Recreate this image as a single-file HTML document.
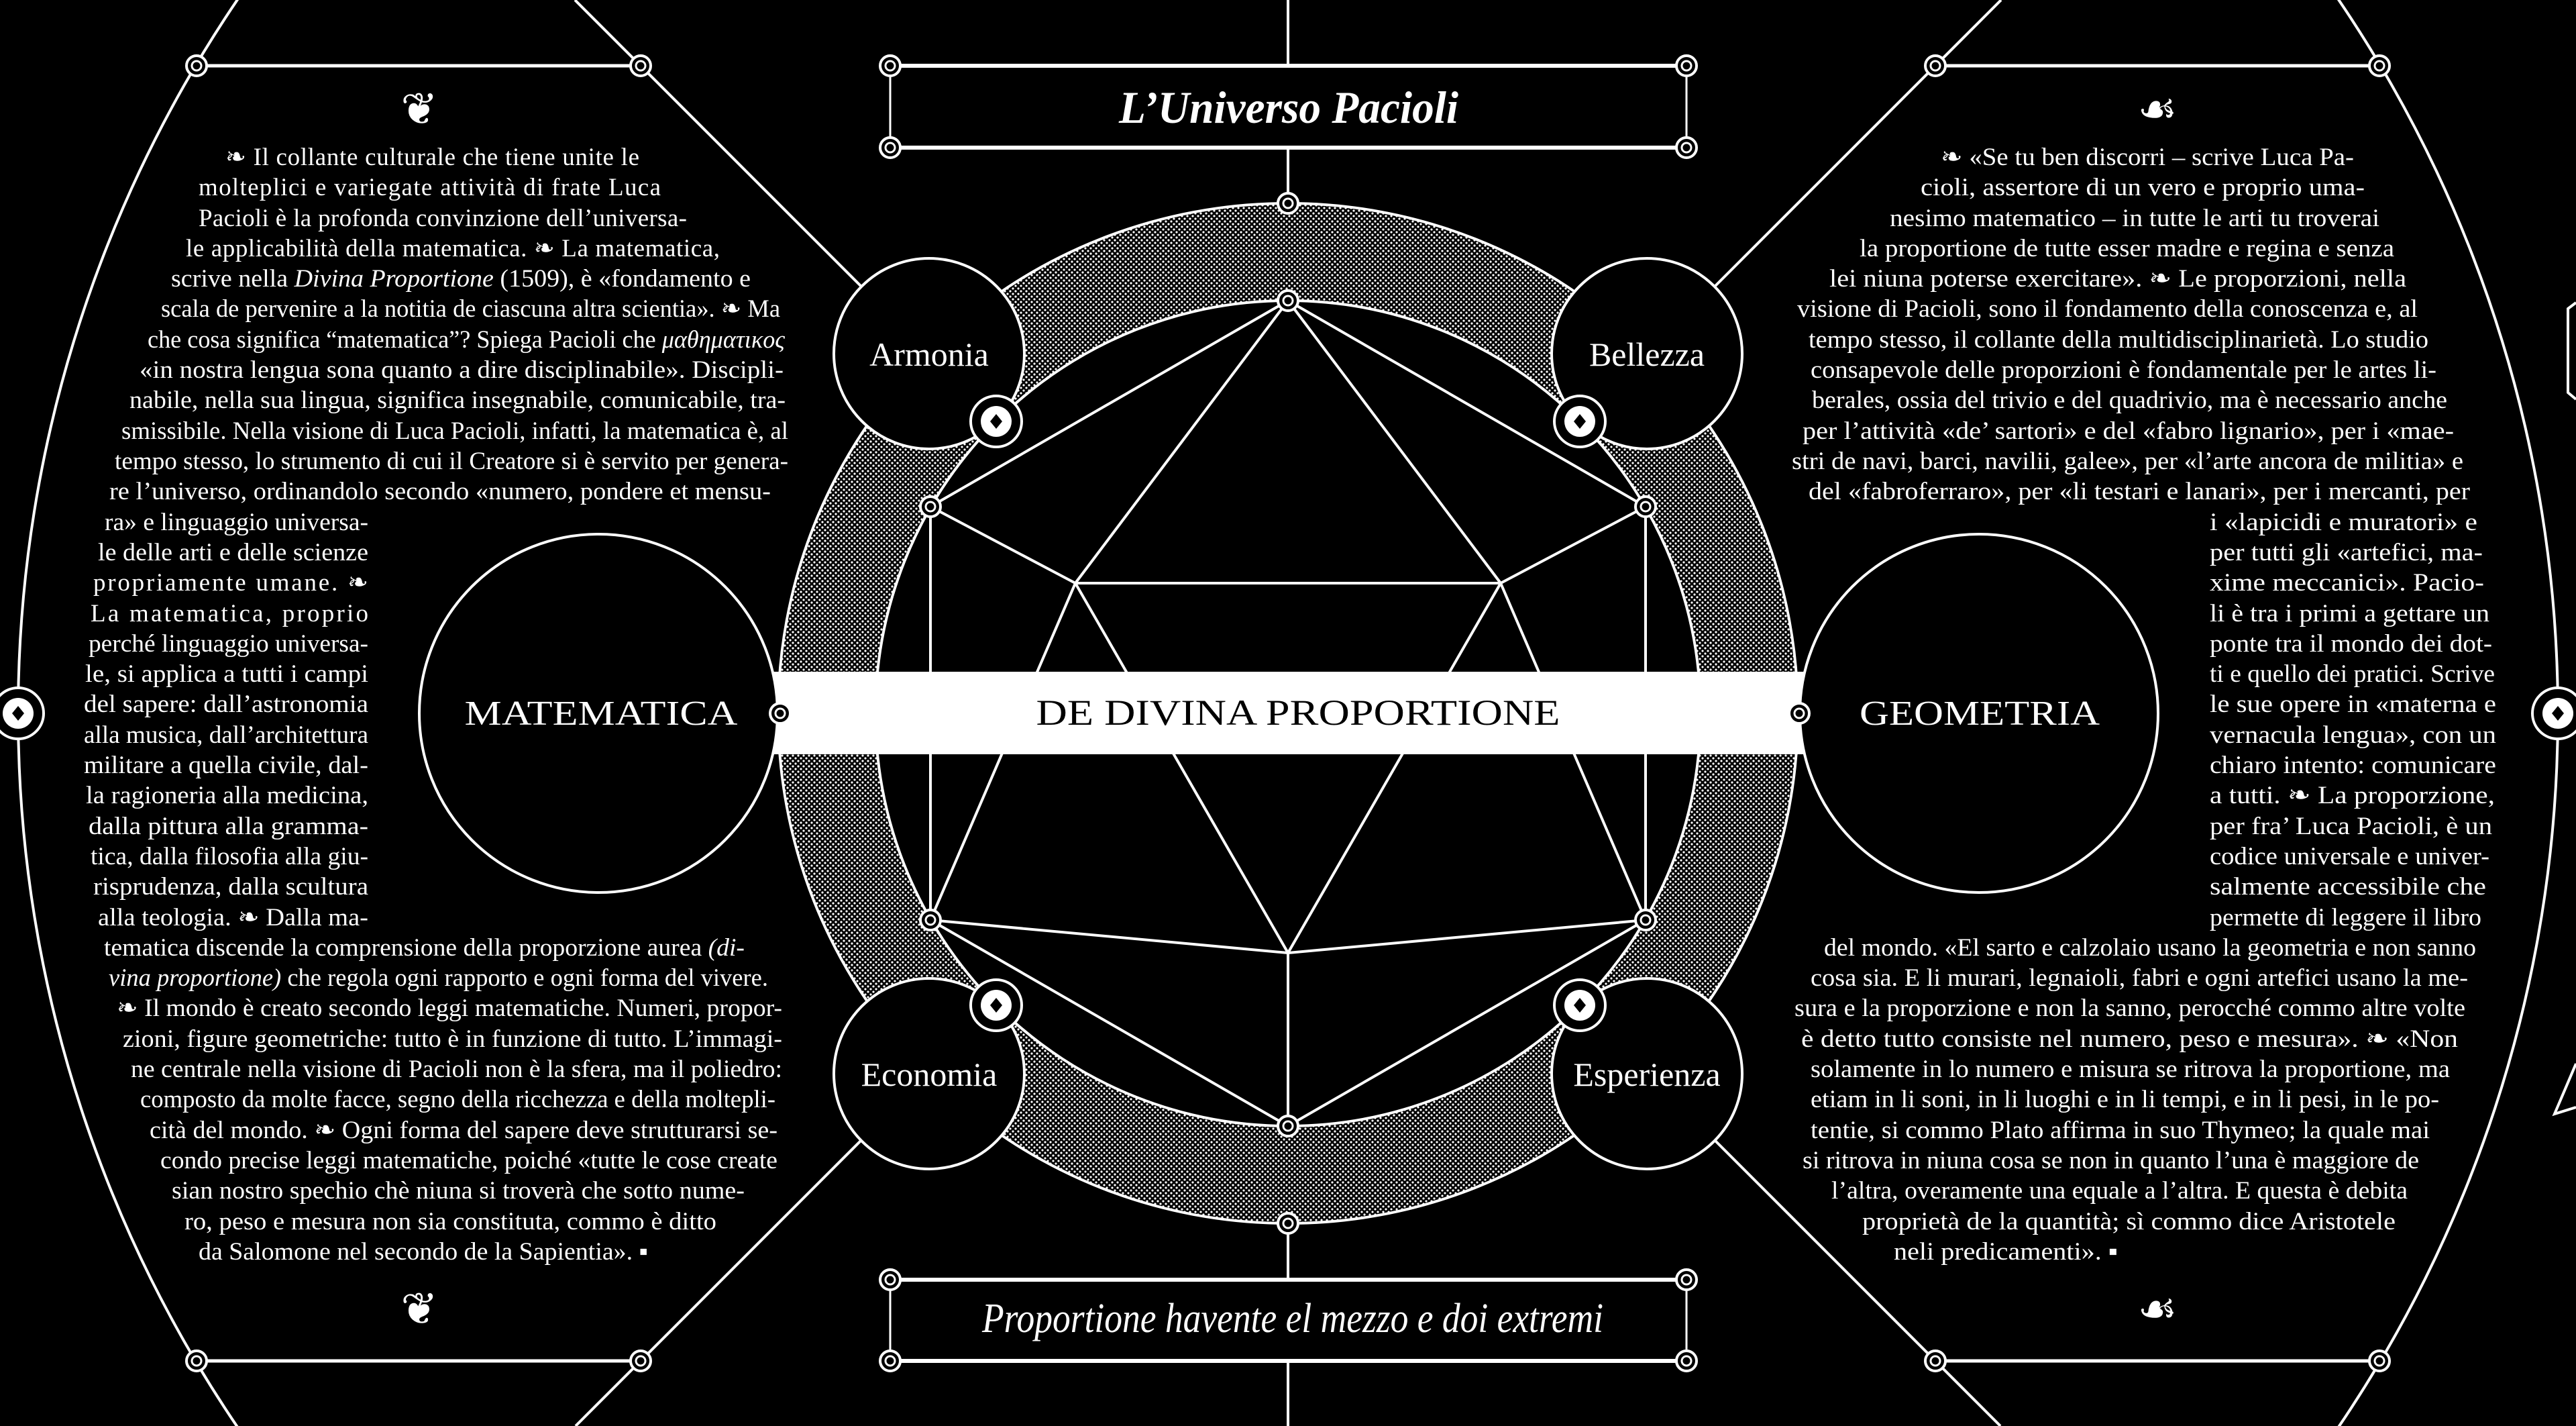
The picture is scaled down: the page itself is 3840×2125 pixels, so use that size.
<!DOCTYPE html>
<html><head><meta charset="utf-8"><style>
html,body{margin:0;padding:0;background:#000;width:3840px;height:2125px;overflow:hidden;}
svg{display:block;overflow:hidden;}
text{font-family:"Liberation Serif","DejaVu Serif",serif;fill:#fff;}
.b{font-size:37px;}
</style></head><body>
<svg width="3840" height="2125" viewBox="0 0 3840 2125" xmlns="http://www.w3.org/2000/svg">
<defs>
<pattern id="dots" width="8" height="8" patternUnits="userSpaceOnUse">
<rect width="8" height="8" fill="#000"/>
<circle cx="2" cy="2" r="1.6" fill="#fff"/>
<circle cx="6" cy="6" r="1.6" fill="#fff"/>
</pattern>
<clipPath id="pg"><rect width="3840" height="2125"/></clipPath>
<g id="nd"><circle r="15" fill="#000" stroke="#fff" stroke-width="4"/><circle r="7" fill="none" stroke="#fff" stroke-width="3"/></g>
<g id="dn"><circle r="38" fill="#000" stroke="#fff" stroke-width="4"/><circle r="23" fill="#fff"/><path d="M0,-11 L9,0 L0,11 L-9,0Z" fill="#000"/></g>
</defs>
<rect width="3840" height="2125" fill="#000"/>
<g clip-path="url(#pg)">
<circle cx="1920" cy="1063" r="1893" fill="none" stroke="#fff" stroke-width="4"/>
<g stroke="#fff" stroke-width="4">
<line x1="857" y1="0" x2="1285" y2="428"/>
<line x1="2983" y1="0" x2="2555" y2="428"/>
<line x1="858" y1="2125" x2="1285" y2="1698"/>
<line x1="2982" y1="2125" x2="2555" y2="1698"/>
<line x1="293" y1="98" x2="955" y2="98" stroke-width="5"/>
<line x1="2885" y1="98" x2="3547" y2="98" stroke-width="5"/>
<line x1="293" y1="2028" x2="955" y2="2028" stroke-width="5"/>
<line x1="2885" y1="2028" x2="3547" y2="2028" stroke-width="5"/>
<line x1="1920" y1="0" x2="1920" y2="98"/>
<line x1="1920" y1="220" x2="1920" y2="303"/>
<line x1="1920" y1="1823" x2="1920" y2="1907"/>
<line x1="1920" y1="2028" x2="1920" y2="2125"/>
</g>

<g stroke="#fff">
<line x1="1327" y1="98" x2="2514" y2="98" stroke-width="6"/>
<line x1="1327" y1="220" x2="2514" y2="220" stroke-width="6"/>
<line x1="1327" y1="98" x2="1327" y2="220" stroke-width="3"/>
<line x1="2514" y1="98" x2="2514" y2="220" stroke-width="3"/>
<line x1="1327" y1="1907" x2="2514" y2="1907" stroke-width="6"/>
<line x1="1327" y1="2028" x2="2514" y2="2028" stroke-width="6"/>
<line x1="1327" y1="1907" x2="1327" y2="2028" stroke-width="3"/>
<line x1="2514" y1="1907" x2="2514" y2="2028" stroke-width="3"/>
</g>
<text x="1921" y="183" text-anchor="middle" font-size="68" font-style="italic" font-weight="bold" textLength="506" lengthAdjust="spacingAndGlyphs">L’Universo Pacioli</text>
<text x="1927" y="1985" text-anchor="middle" font-size="62" font-style="italic" textLength="926" lengthAdjust="spacingAndGlyphs">Proportione havente el mezzo e doi extremi</text>

<path d="M1920,303 a760,760 0 1,0 0.01,0 Z M1920,448 a615,615 0 1,0 0.01,0 Z" fill="url(#dots)" fill-rule="evenodd"/>
<circle cx="1920" cy="1063" r="760" fill="none" stroke="#fff" stroke-width="4"/>
<circle cx="1920" cy="1063" r="615" fill="none" stroke="#fff" stroke-width="4"/>

<g stroke="#fff" stroke-width="4" fill="none">
<polygon points="1920,448 2453,755 2453,1371 1920,1678 1387,1371 1387,755"/>
<line x1="1920" y1="448" x2="1603" y2="869"/>
<line x1="1920" y1="448" x2="2237" y2="869"/>
<line x1="1387" y1="755" x2="1603" y2="869"/>
<line x1="2453" y1="755" x2="2237" y2="869"/>
<line x1="1603" y1="869" x2="2237" y2="869"/>
<line x1="1603" y1="869" x2="1387" y2="1371"/>
<line x1="2237" y1="869" x2="2453" y2="1371"/>
<line x1="1603" y1="869" x2="1920" y2="1420"/>
<line x1="2237" y1="869" x2="1920" y2="1420"/>
<line x1="1387" y1="1371" x2="1920" y2="1420"/>
<line x1="2453" y1="1371" x2="1920" y2="1420"/>
<line x1="1920" y1="1420" x2="1920" y2="1678"/>
</g>

<g fill="#000" stroke="#fff" stroke-width="4">
<circle cx="1385" cy="527" r="142"/>
<circle cx="2455" cy="527" r="142"/>
<circle cx="1385" cy="1600" r="142"/>
<circle cx="2455" cy="1600" r="142"/>
</g>
<g font-size="50" text-anchor="middle">
<text x="1385" y="545">Armonia</text>
<text x="2455" y="545">Bellezza</text>
<text x="1385" y="1618">Economia</text>
<text x="2455" y="1618">Esperienza</text>
</g>

<rect x="1151" y="1001" width="1538" height="123" fill="#fff"/>
<text x="1935" y="1080" text-anchor="middle" font-size="54" style="fill:#000" textLength="781" lengthAdjust="spacingAndGlyphs">DE DIVINA PROPORTIONE</text>

<g fill="#000" stroke="#fff" stroke-width="4">
<circle cx="892" cy="1063" r="267"/>
<circle cx="2950" cy="1063" r="267"/>
</g>
<text x="896" y="1080" text-anchor="middle" font-size="52" textLength="407" lengthAdjust="spacingAndGlyphs">MATEMATICA</text>
<text x="2951" y="1080" text-anchor="middle" font-size="52" textLength="358" lengthAdjust="spacingAndGlyphs">GEOMETRIA</text>

<use href="#nd" x="1920" y="303"/><use href="#nd" x="1920" y="1823"/>
<use href="#nd" x="1920" y="448"/><use href="#nd" x="1920" y="1678"/>
<use href="#nd" x="1387" y="755"/><use href="#nd" x="2453" y="755"/>
<use href="#nd" x="1387" y="1371"/><use href="#nd" x="2453" y="1371"/>
<use href="#nd" x="1163" y="1063"/><use href="#nd" x="2682" y="1063"/>
<use href="#nd" x="1327" y="98"/><use href="#nd" x="2514" y="98"/>
<use href="#nd" x="1327" y="220"/><use href="#nd" x="2514" y="220"/>
<use href="#nd" x="1327" y="1907"/><use href="#nd" x="2514" y="1907"/>
<use href="#nd" x="1327" y="2028"/><use href="#nd" x="2514" y="2028"/>
<use href="#nd" x="293" y="98"/><use href="#nd" x="955" y="98"/>
<use href="#nd" x="2885" y="98"/><use href="#nd" x="3547" y="98"/>
<use href="#nd" x="293" y="2028"/><use href="#nd" x="955" y="2028"/>
<use href="#nd" x="2885" y="2028"/><use href="#nd" x="3547" y="2028"/>
<use href="#dn" x="1485" y="628"/><use href="#dn" x="2355" y="628"/>
<use href="#dn" x="1485" y="1498"/><use href="#dn" x="2355" y="1498"/>
<use href="#dn" x="27" y="1063"/><use href="#dn" x="3813" y="1063"/>

<g stroke="#fff" stroke-width="4" fill="none">
<polyline points="3840,451 3828,460 3828,585 3840,595"/>
<polyline points="3840,1585 3808,1660 3840,1650"/>
</g>

<g font-size="66" text-anchor="middle" style="font-family:'DejaVu Sans',sans-serif">
<text x="625" y="185">❦</text>
<text x="625" y="1973">❦</text>
<text x="3216" y="185">☙</text>
<text x="3216" y="1973">☙</text>
</g>

<g class="b">
<text x="336" y="246" textLength="617" lengthAdjust="spacing">❧ Il collante culturale che tiene unite le</text>
<text x="296" y="291" textLength="689" lengthAdjust="spacing">molteplici e variegate attività di frate Luca</text>
<text x="296" y="337" textLength="728" lengthAdjust="spacing">Pacioli è la profonda convinzione dell’universa-</text>
<text x="277" y="382" textLength="796" lengthAdjust="spacing">le applicabilità della matematica. ❧ La matematica,</text>
<text x="255" y="427" textLength="864" lengthAdjust="spacingAndGlyphs">scrive nella <tspan font-style="italic">Divina Proportione</tspan> (1509), è «fondamento e</text>
<text x="240" y="472" textLength="923" lengthAdjust="spacingAndGlyphs">scala de pervenire a la notitia de ciascuna altra scientia». ❧ Ma</text>
<text x="220" y="518" textLength="950" lengthAdjust="spacingAndGlyphs">che cosa significa “matematica”? Spiega Pacioli che <tspan font-style="italic">μαθηματικος</tspan></text>
<text x="208" y="563" textLength="960" lengthAdjust="spacingAndGlyphs">«in nostra lengua sona quanto a dire disciplinabile». Discipli-</text>
<text x="193" y="608" textLength="978" lengthAdjust="spacingAndGlyphs">nabile, nella sua lingua, significa insegnabile, comunicabile, tra-</text>
<text x="181" y="654" textLength="994" lengthAdjust="spacingAndGlyphs">smissibile. Nella visione di Luca Pacioli, infatti, la matematica è, al</text>
<text x="171" y="699" textLength="1004" lengthAdjust="spacingAndGlyphs">tempo stesso, lo strumento di cui il Creatore si è servito per genera-</text>
<text x="163" y="744" textLength="986" lengthAdjust="spacingAndGlyphs">re l’universo, ordinandolo secondo «numero, pondere et mensu-</text>
<text x="156" y="790" textLength="393" lengthAdjust="spacingAndGlyphs">ra» e linguaggio universa-</text>
<text x="146" y="835" textLength="403" lengthAdjust="spacingAndGlyphs">le delle arti e delle scienze</text>
<text x="139" y="880" textLength="410" lengthAdjust="spacing">propriamente umane. ❧</text>
<text x="135" y="926" textLength="414" lengthAdjust="spacing">La matematica, proprio</text>
<text x="132" y="971" textLength="417" lengthAdjust="spacingAndGlyphs">perché linguaggio universa-</text>
<text x="127" y="1016" textLength="422" lengthAdjust="spacingAndGlyphs">le, si applica a tutti i campi</text>
<text x="125" y="1061" textLength="424" lengthAdjust="spacingAndGlyphs">del sapere: dall’astronomia</text>
<text x="125" y="1107" textLength="424" lengthAdjust="spacingAndGlyphs">alla musica, dall’architettura</text>
<text x="125" y="1152" textLength="424" lengthAdjust="spacingAndGlyphs">militare a quella civile, dal-</text>
<text x="128" y="1197" textLength="421" lengthAdjust="spacingAndGlyphs">la ragioneria alla medicina,</text>
<text x="132" y="1243" textLength="417" lengthAdjust="spacingAndGlyphs">dalla pittura alla gramma-</text>
<text x="135" y="1288" textLength="414" lengthAdjust="spacingAndGlyphs">tica, dalla filosofia alla giu-</text>
<text x="139" y="1333" textLength="410" lengthAdjust="spacingAndGlyphs">risprudenza, dalla scultura</text>
<text x="146" y="1379" textLength="403" lengthAdjust="spacingAndGlyphs">alla teologia. ❧ Dalla ma-</text>
<text x="155" y="1424" textLength="955" lengthAdjust="spacingAndGlyphs">tematica discende la comprensione della proporzione aurea <tspan font-style="italic">(di-</tspan></text>
<text x="162" y="1469" textLength="983" lengthAdjust="spacingAndGlyphs"><tspan font-style="italic">vina proportione)</tspan> che regola ogni rapporto e ogni forma del vivere.</text>
<text x="174" y="1514" textLength="992" lengthAdjust="spacingAndGlyphs">❧ Il mondo è creato secondo leggi matematiche. Numeri, propor-</text>
<text x="183" y="1560" textLength="983" lengthAdjust="spacingAndGlyphs">zioni, figure geometriche: tutto è in funzione di tutto. L’immagi-</text>
<text x="195" y="1605" textLength="971" lengthAdjust="spacingAndGlyphs">ne centrale nella visione di Pacioli non è la sfera, ma il poliedro:</text>
<text x="209" y="1650" textLength="947" lengthAdjust="spacingAndGlyphs">composto da molte facce, segno della ricchezza e della moltepli-</text>
<text x="223" y="1696" textLength="936" lengthAdjust="spacingAndGlyphs">cità del mondo. ❧ Ogni forma del sapere deve strutturarsi se-</text>
<text x="239" y="1741" textLength="920" lengthAdjust="spacingAndGlyphs">condo precise leggi matematiche, poiché «tutte le cose create</text>
<text x="256" y="1786" textLength="854" lengthAdjust="spacingAndGlyphs">sian nostro spechio chè niuna si troverà che sotto nume-</text>
<text x="275" y="1832" textLength="793" lengthAdjust="spacingAndGlyphs">ro, peso e mesura non sia constituta, commo è ditto</text>
<text x="296" y="1877" textLength="670" lengthAdjust="spacingAndGlyphs">da Salomone nel secondo de la Sapientia». ▪</text>
</g>

<g class="b">
<text x="2893" y="246" textLength="616" lengthAdjust="spacingAndGlyphs">❧ «Se tu ben discorri – scrive Luca Pa-</text>
<text x="2863" y="291" textLength="662" lengthAdjust="spacingAndGlyphs">cioli, assertore di un vero e proprio uma-</text>
<text x="2817" y="337" textLength="730" lengthAdjust="spacingAndGlyphs">nesimo matematico – in tutte le arti tu troverai</text>
<text x="2772" y="382" textLength="797" lengthAdjust="spacingAndGlyphs">la proportione de tutte esser madre e regina e senza</text>
<text x="2727" y="427" textLength="860" lengthAdjust="spacingAndGlyphs">lei niuna poterse exercitare». ❧ Le proporzioni, nella</text>
<text x="2679" y="472" textLength="925" lengthAdjust="spacingAndGlyphs">visione di Pacioli, sono il fondamento della conoscenza e, al</text>
<text x="2696" y="518" textLength="924" lengthAdjust="spacingAndGlyphs">tempo stesso, il collante della multidisciplinarietà. Lo studio</text>
<text x="2699" y="563" textLength="933" lengthAdjust="spacingAndGlyphs">consapevole delle proporzioni è fondamentale per le artes li-</text>
<text x="2701" y="608" textLength="947" lengthAdjust="spacingAndGlyphs">berales, ossia del trivio e del quadrivio, ma è necessario anche</text>
<text x="2687" y="654" textLength="971" lengthAdjust="spacingAndGlyphs">per l’attività «de’ sartori» e del «fabro lignario», per i «mae-</text>
<text x="2671" y="699" textLength="1001" lengthAdjust="spacingAndGlyphs">stri de navi, barci, navilii, galee», per «l’arte ancora de militia» e</text>
<text x="2696" y="744" textLength="986" lengthAdjust="spacingAndGlyphs">del «fabroferraro», per «li testari e lanari», per i mercanti, per</text>
<text x="3294" y="790" textLength="399" lengthAdjust="spacingAndGlyphs">i «lapicidi e muratori» e</text>
<text x="3294" y="835" textLength="407" lengthAdjust="spacingAndGlyphs">per tutti gli «artefici, ma-</text>
<text x="3294" y="880" textLength="409" lengthAdjust="spacingAndGlyphs">xime meccanici». Pacio-</text>
<text x="3294" y="926" textLength="417" lengthAdjust="spacingAndGlyphs">li è tra i primi a gettare un</text>
<text x="3294" y="971" textLength="421" lengthAdjust="spacingAndGlyphs">ponte tra il mondo dei dot-</text>
<text x="3294" y="1016" textLength="425" lengthAdjust="spacingAndGlyphs">ti e quello dei pratici. Scrive</text>
<text x="3294" y="1061" textLength="427" lengthAdjust="spacingAndGlyphs">le sue opere in «materna e</text>
<text x="3294" y="1107" textLength="427" lengthAdjust="spacingAndGlyphs">vernacula lengua», con un</text>
<text x="3294" y="1152" textLength="427" lengthAdjust="spacingAndGlyphs">chiaro intento: comunicare</text>
<text x="3294" y="1197" textLength="425" lengthAdjust="spacingAndGlyphs">a tutti. ❧ La proporzione,</text>
<text x="3294" y="1243" textLength="421" lengthAdjust="spacingAndGlyphs">per fra’ Luca Pacioli, è un</text>
<text x="3294" y="1288" textLength="417" lengthAdjust="spacingAndGlyphs">codice universale e univer-</text>
<text x="3294" y="1333" textLength="412" lengthAdjust="spacingAndGlyphs">salmente accessibile che</text>
<text x="3294" y="1379" textLength="405" lengthAdjust="spacingAndGlyphs">permette di leggere il libro</text>
<text x="2719" y="1424" textLength="972" lengthAdjust="spacingAndGlyphs">del mondo. «El sarto e calzolaio usano la geometria e non sanno</text>
<text x="2699" y="1469" textLength="980" lengthAdjust="spacingAndGlyphs">cosa sia. E li murari, legnaioli, fabri e ogni artefici usano la me-</text>
<text x="2675" y="1514" textLength="1000" lengthAdjust="spacingAndGlyphs">sura e la proporzione e non la sanno, perocché commo altre volte</text>
<text x="2685" y="1560" textLength="979" lengthAdjust="spacingAndGlyphs">è detto tutto consiste nel numero, peso e mesura». ❧ «Non</text>
<text x="2699" y="1605" textLength="953" lengthAdjust="spacingAndGlyphs">solamente in lo numero e misura se ritrova la proportione, ma</text>
<text x="2699" y="1650" textLength="937" lengthAdjust="spacingAndGlyphs">etiam in li soni, in li luoghi e in li tempi, e in li pesi, in le po-</text>
<text x="2699" y="1696" textLength="923" lengthAdjust="spacingAndGlyphs">tentie, si commo Plato affirma in suo Thymeo; la quale mai</text>
<text x="2687" y="1741" textLength="919" lengthAdjust="spacingAndGlyphs">si ritrova in niuna cosa se non in quanto l’una è maggiore de</text>
<text x="2730" y="1786" textLength="859" lengthAdjust="spacingAndGlyphs">l’altra, overamente una equale a l’altra. E questa è debita</text>
<text x="2776" y="1832" textLength="795" lengthAdjust="spacingAndGlyphs">proprietà de la quantità; sì commo dice Aristotele</text>
<text x="2823" y="1877" textLength="334" lengthAdjust="spacingAndGlyphs">neli predicamenti». ▪</text>
</g>
</g>
</svg>
</body></html>
